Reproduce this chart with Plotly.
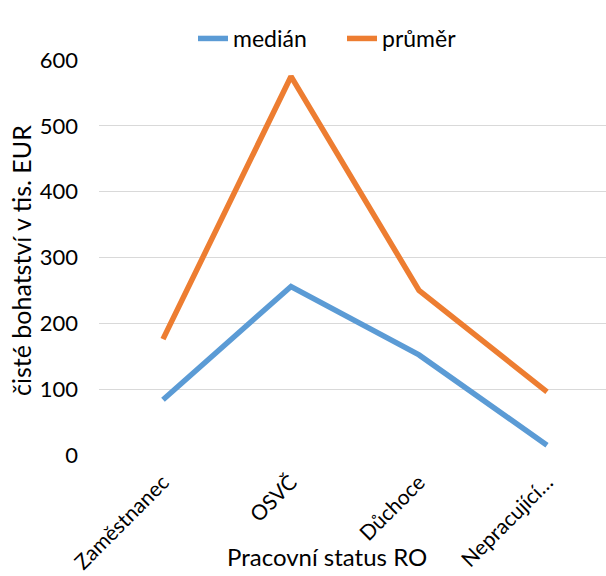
import plotly.graph_objects as go

categories = ["Zaměstnanec", "OSVČ", "Důchoce", "Nepracující…"]
median_vals = [84, 256, 152, 15]
mean_vals = [176, 575, 250, 96]
y_ticks = [0, 100, 200, 300, 400, 500, 600]

FONT = "Lato"
W, H = 606, 576
ML, MT, MB = 99, 60, 121
PW, PH = W - ML, H - MT - MB

fig = go.Figure()
fig.add_trace(go.Scatter(x=categories, y=median_vals, mode="lines", name="medián",
                         line=dict(color="#5B9BD5", width=5.5)))
fig.add_trace(go.Scatter(x=categories, y=mean_vals, mode="lines", name="průměr",
                         line=dict(color="#ED7D31", width=5.5)))

fig.update_layout(
    width=W, height=H,
    margin=dict(l=ML, r=0, t=MT, b=MB),
    paper_bgcolor="white", plot_bgcolor="white",
    font=dict(family=FONT, size=22, color="#000000"),
    showlegend=True,
    legend=dict(orientation="h", x=(342 - ML) / PW, y=1.0, xanchor="center", yanchor="bottom",
                font=dict(size=23), tracegroupgap=0, bgcolor="rgba(0,0,0,0)",
                entrywidth=104, entrywidthmode="pixels"),
    xaxis=dict(range=[-0.5, (W - 163) / 128], tickangle=-45, showgrid=False,
               showline=False, zeroline=False, ticks="", tickfont=dict(size=21),
               ticklabelstandoff=10),
    yaxis=dict(range=[0, 600], tickvals=y_ticks, showgrid=True, gridcolor="#D9D9D9",
               gridwidth=1.3, zeroline=False, showline=False, ticks="",
               tickfont=dict(size=22), ticklabelstandoff=20),
    annotations=[
        dict(text="Pracovní status RO", xref="paper", yref="paper",
             x=(327 - ML) / PW, y=(H - MB - 556) / PH, xanchor="center", yanchor="middle",
             showarrow=False, font=dict(size=24)),
        dict(text="čisté bohatství v tis. EUR", xref="paper", yref="paper",
             x=(21 - ML) / PW, y=(H - MB - 261) / PH, xanchor="center", yanchor="middle",
             textangle=-90, showarrow=False, font=dict(size=25)),
    ],
)
fig.update_xaxes(automargin=False)
fig.update_yaxes(automargin=False)

fig.write_html("out.html", config={"displayModeBar": False},
               post_script="document.body.style.margin='0';")
